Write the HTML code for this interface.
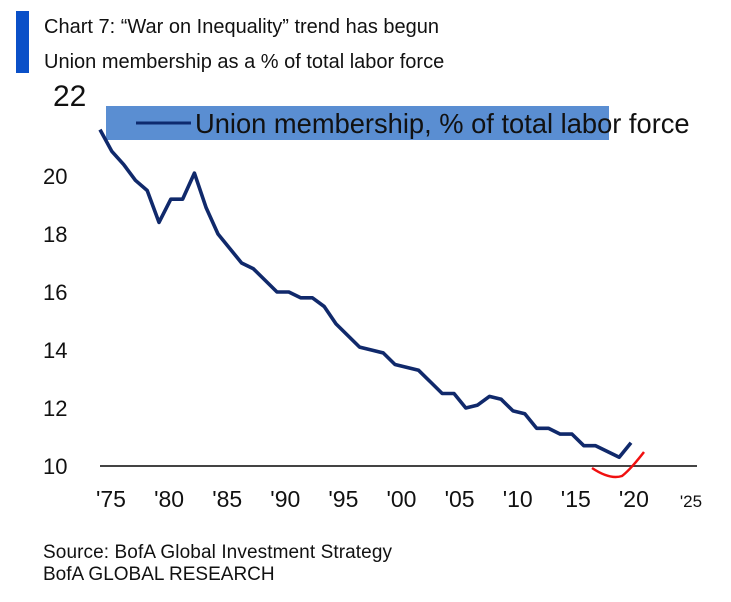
<!DOCTYPE html>
<html><head><meta charset="utf-8"><style>
body{margin:0;background:#fff;width:731px;height:597px;overflow:hidden;font-family:"Liberation Sans",Arial,sans-serif}
</style></head><body>
<svg width="731" height="597" viewBox="0 0 731 597" xmlns="http://www.w3.org/2000/svg" font-family="Liberation Sans, Arial, sans-serif">
<rect x="16" y="11" width="13" height="62" fill="#0a50c8"/>
<text x="44" y="33" font-size="20" fill="#111">Chart 7: “War on Inequality” trend has begun</text>
<text x="44" y="68" font-size="20" fill="#111">Union membership as a % of total labor force</text>
<g id="yticks"></g>
<g id="xticks"></g>
<line x1="100" y1="466" x2="697" y2="466" stroke="#444" stroke-width="2"/>
<rect x="106" y="106" width="503" height="34" fill="#5a8ed2"/>
<line x1="136" y1="123" x2="191" y2="123" stroke="#0d2a6e" stroke-width="3"/>
<text x="195" y="133" font-size="27.3" fill="#111">Union membership, % of total labor force</text>
<path id="series" fill="none" stroke="#10296b" stroke-width="3.6" stroke-linejoin="round"/>
<path d="M592 468 Q610 480 622 476 Q630 470 644 452" fill="none" stroke="#f01010" stroke-width="2.5"/>
<text x="43" y="558" font-size="19" textLength="349" fill="#111">Source: BofA Global Investment Strategy</text>
<text x="43" y="580" font-size="19" fill="#111">BofA GLOBAL RESEARCH</text>
</svg>
<script>
const years=[1975,1976,1977,1978,1979,1980,1981,1982,1983,1984,1985,1986,1987,1988,1989,1990,1991,1992,1993,1994,1995,1996,1997,1998,1999,2000,2001,2002,2003,2004,2005,2006,2007,2008,2009,2010,2011,2012,2013,2014,2015,2016,2017,2018,2019,2020];
const values=[21.6,20.85,20.4,19.85,19.5,18.4,19.2,19.2,20.1,18.9,18.0,17.5,17.0,16.8,16.4,16.0,16.0,15.8,15.8,15.5,14.9,14.5,14.1,14.0,13.9,13.5,13.4,13.3,12.9,12.5,12.5,12.0,12.1,12.4,12.3,11.9,11.8,11.3,11.3,11.1,11.1,10.7,10.7,10.5,10.3,10.8];
const yTicks=[10,12,14,16,18,20];
const xTickLabels=["'75","'80","'85","'90","'95","'00","'05","'10","'15","'20","'25"];
const xTickYears=[1975,1980,1985,1990,1995,2000,2005,2010,2015,2020,2025];
const X=y=>100+(y-1975)*11.8;
const Y=v=>466-(v-10)*29;
const NS="http://www.w3.org/2000/svg";
let d="";
years.forEach((yr,i)=>{d+=(i?"L":"M")+X(yr).toFixed(1)+" "+Y(values[i]).toFixed(1)+" ";});
document.getElementById('series').setAttribute('d',d);
const yg=document.getElementById('yticks');
yTicks.forEach(v=>{const t=document.createElementNS(NS,'text');


t.setAttribute('x',43);t.setAttribute('y',Y(v)+8);t.setAttribute('font-size','22');t.setAttribute('fill','#111');t.textContent=v;yg.appendChild(t);});
const t22=document.createElementNS(NS,'text');


t22.setAttribute('x',53);t22.setAttribute('y',106);t22.setAttribute('font-size','30');t22.setAttribute('fill','#111');t22.textContent='22';yg.appendChild(t22);
const xg=document.getElementById('xticks');
xTickLabels.forEach((l,i)=>{const t=document.createElementNS(NS,'text');


const x=111+(xTickYears[i]-1975)*(i==10?11.6:11.62);
t.setAttribute('x',x);t.setAttribute('y',507);t.setAttribute('text-anchor','middle');t.setAttribute('font-size',i==10?'17':'23');t.setAttribute('fill','#111');t.textContent=l;xg.appendChild(t);});
</script>
</body></html>
